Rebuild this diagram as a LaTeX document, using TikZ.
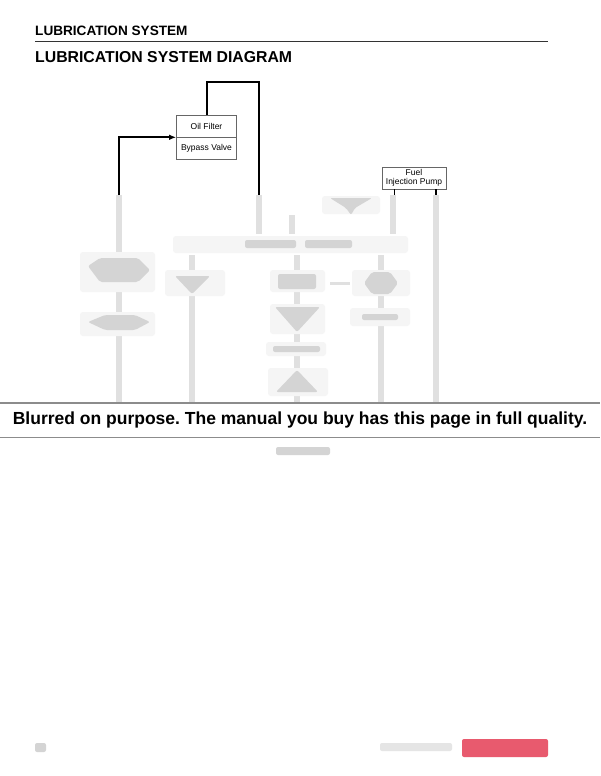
\documentclass[tikz,border=0pt]{standalone}
\usepackage{fontspec}
\setmainfont{Liberation Sans}
\usetikzlibrary{arrows.meta}
\definecolor{footred}{RGB}{232,90,110}
\frenchspacing
\begin{document}
\begin{tikzpicture}[x=1pt,y=-1pt,
  box/.style={draw=black!60, line width=0.6pt, fill=white, font=\fontsize{8.5}{9}\selectfont, inner sep=1pt},
  pipe/.style={draw=black, line width=2pt},
  blurbar/.style={draw=black!12, line width=6pt},
  blurbox/.style={fill=black!4, draw=none, rounded corners=3pt},
  blurtext/.style={fill=black!17, draw=none, rounded corners=2pt}]
\useasboundingbox (0,0) rectangle (600,776);
\fill[white] (0,0) rectangle (600,776);
% page head
\node[anchor=base west, inner sep=0pt, font=\fontsize{13.6}{15}\selectfont\bfseries] (head) at (35,36) {LUBRICATION SYSTEM};
\draw[black!80, line width=0.9pt] (35,41.5) -- (548,41.5);
\node[anchor=base west, inner sep=0pt, font=\fontsize{15.8}{18}\selectfont\bfseries] (title) at (35,63) {LUBRICATION SYSTEM DIAGRAM};
% blurred part of the diagram
\draw[blurbar] (119,195) -- (119,403);
\draw[blurbar] (192,255) -- (192,403);
\draw[blurbar] (259,195) -- (259,234);
\draw[blurbar] (292,215) -- (292,234);
\draw[blurbar] (297,255) -- (297,403);
\draw[blurbar] (393,195) -- (393,234);
\draw[blurbar] (381,255) -- (381,403);
\draw[blurbar] (436,195) -- (436,403);
\draw[blurbar, line width=3pt] (330,283) -- (350,283);
\fill[blurbox] (173,236) rectangle (408,253);
\fill[blurtext] (245,240) rectangle (296,248);
\fill[blurtext] (305,240) rectangle (352,248);
\fill[blurbox] (322,196) rectangle (380,214);
\fill[blurtext] (330,198) -- (372,198) -- (355,208) -- (351,215) -- (346,208) -- cycle;
\fill[blurbox] (80,252) rectangle (155,292);
\fill[blurtext] (88,266) -- (100,258) -- (138,258) -- (150,270) -- (138,282) -- (100,282) -- cycle;
\fill[blurbox] (80,312) rectangle (155,336);
\fill[blurtext] (88,322) -- (105,315) -- (135,315) -- (150,322) -- (135,330) -- (105,330) -- cycle;
\fill[blurbox] (165,270) rectangle (225,296);
\fill[blurtext] (175,276) -- (210,276) -- (192,294) -- cycle;
\fill[blurbox] (270,270) rectangle (325,292);
\fill[blurtext] (278,274) rectangle (316,289);
\fill[blurbox] (270,304) rectangle (325,334);
\fill[blurtext] (275,307) -- (320,307) -- (297,332) -- cycle;
\fill[blurbox] (266,342) rectangle (326,356);
\fill[blurtext] (273,346) rectangle (320,352);
\fill[blurbox] (268,368) rectangle (328,396);
\fill[blurtext] (297,370) -- (318,392) -- (276,392) -- cycle;
\fill[blurbox] (352,270) rectangle (410,296);
\fill[blurtext] (372,272) -- (390,272) -- (398,283) -- (390,294) -- (372,294) -- (364,283) -- cycle;
\fill[blurbox] (350,308) rectangle (410,326);
\fill[blurtext] (362,314) rectangle (398,320);
% oil filter and pump boxes
\node[box, minimum width=60pt, minimum height=22pt] (filter) at (206.5,126) {Oil Filter};
\node[box, minimum width=60pt, minimum height=22pt, anchor=north] (bypass) at (filter.south) {Bypass Valve};
\node[box, minimum width=64pt, minimum height=22pt, align=center, font=\fontsize{8.5}{8.5}\selectfont] (pump) at (414,178) {Fuel\\Injection Pump};
\coordinate (inlet) at (119,195);
\coordinate (outlet) at (259,195);
\coordinate (pumpa) at (394,195);
\coordinate (pumpb) at (436,195);
\draw[pipe, -{Latex[length=7pt,width=5.5pt]}] (inlet) |- (filter.south west);
\draw[pipe] (filter.north) |- ++(0,-33) -| (outlet);
\draw[black, line width=1pt] (pump.south -| pumpa) -- (pumpa);
\draw[black, line width=1.5pt] (pump.south -| pumpb) -- (pumpb);
% banner
\fill[white] (0,403) rectangle (600,437.5);
\draw[black!45, line width=1.2pt] (0,403) -- (600,403);
\draw[black!45, line width=1.2pt] (0,437.5) -- (600,437.5);
\node[inner sep=0pt, font=\fontsize{17.5}{19}\selectfont\bfseries] (banner) at (300,420) {Blurred on purpose. The manual you buy has this page in full quality.};
% blurred caption and footer
\fill[blurtext] (276,447) rectangle (330,455);
\fill[blurtext] (35,743) rectangle (46,752);
\fill[black!10, rounded corners=2pt] (380,743) rectangle (452,751);
\fill[footred, rounded corners=2pt] (462,739) rectangle (548,757);
\end{tikzpicture}
\end{document}
